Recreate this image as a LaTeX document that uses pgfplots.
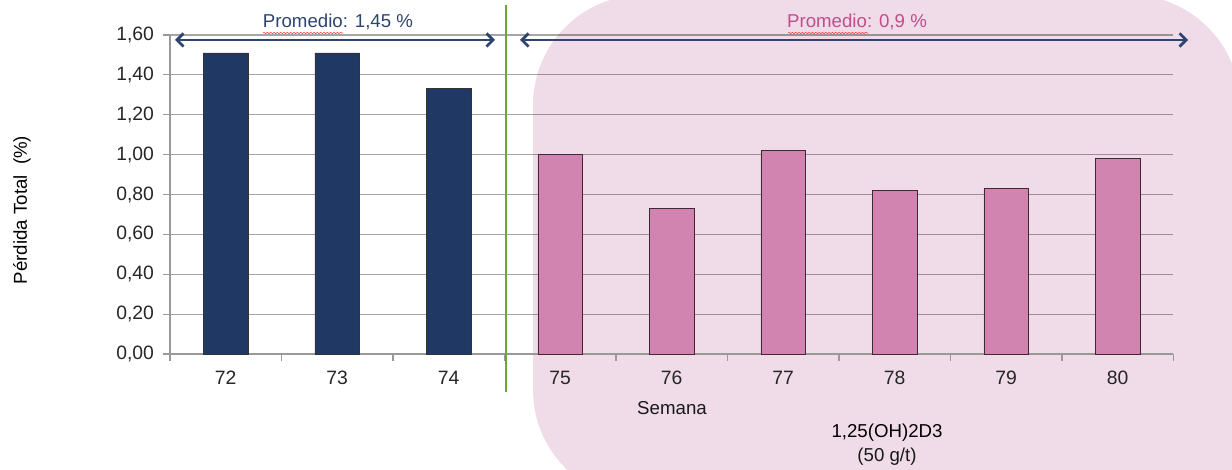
\documentclass[border=0pt]{standalone}
\usepackage{pgfplots}
\pgfplotsset{compat=1.18}
\usepackage{fontspec}
\setmainfont{Liberation Sans}
\usetikzlibrary{arrows.meta,decorations.pathmorphing}
\definecolor{navybar}{HTML}{1F3864}
\definecolor{pinkbar}{HTML}{D084AF}
\definecolor{pinkbg}{HTML}{F0DCE8}
\definecolor{arrowc}{HTML}{2E4470}
\definecolor{pinktxt}{HTML}{C04E8C}
\definecolor{greenl}{HTML}{6AA832}
\begin{document}
\begin{tikzpicture}[x=0.75pt,y=0.75pt]
\clip (0,0) rectangle (1232,470);
% pink background (y measured from bottom, px units)
\fill[pinkbg] (643,-30) -- (1240,-30) -- (1240,365) arc[start angle=0,end angle=90,radius=110] -- (643,475) arc[start angle=90,end angle=180,radius=110] -- (533,80) arc[start angle=180,end angle=270,radius=110] -- cycle;
\begin{axis}[
  at={(127.5pt,87pt)}, anchor=south west,
  scale only axis, width=752.6pt, height=239.25pt,
  xmin=-0.5, xmax=8.5, ymin=0, ymax=1.6,
  axis x line*=bottom, axis y line*=left,
  axis line style={-, draw=black!40, line width=0.8pt},
  ymajorgrids=true,
  grid style={black, opacity=0.35, line width=0.9pt},
  xtick={0,...,8}, xticklabels={72,73,74,75,76,77,78,79,80},
  major x tick style={draw=none},
  minor xtick={-0.5,0.5,1.5,2.5,3.5,4.5,5.5,6.5,7.5,8.5},
  minor x tick style={draw=black!40, line width=0.8pt},
  minor tick length=5pt,
  ytick={0,0.2,0.4,0.6,0.8,1.0,1.2,1.4,1.6},
  major y tick style={draw=black!40, line width=0.8pt},
  major tick length=5pt,
  tick align=outside,
  /pgf/number format/assume math mode=true,
  ticklabel style={font=\fontsize{14.5}{17}\selectfont, text=black!85},
  xticklabel style={yshift=-4.5pt},
  yticklabel style={xshift=-3.5pt, /pgf/number format/.cd,fixed,fixed zerofill,precision=2,use comma},
  ybar, bar width=0.4, bar shift=0pt,
  clip=false,
]
\addplot[fill=navybar, draw=black!80, line width=0.6pt] coordinates {(0,1.51) (1,1.51) (2,1.33)};
\addplot[fill=pinkbar, draw=black!70!pinkbar, line width=0.6pt] coordinates {(3,1.00) (4,0.73) (5,1.02) (6,0.82) (7,0.83) (8,0.98)};
\end{axis}
% annotations in px coordinates (y from bottom)
\draw[greenl, line width=1.4pt] (506,465) -- (506,78);
\draw[arrowc, line width=2pt, {Straight Barb[length=5pt,width=10pt]}-{Straight Barb[length=5pt,width=10pt]}] (175,430) -- (495,430);
\draw[arrowc, line width=2pt, {Straight Barb[length=5pt,width=10pt]}-{Straight Barb[length=5pt,width=10pt]}] (520,430) -- (1188,430);
\node[text=arrowc, font=\fontsize{14}{16}\selectfont] at (338,448) {Promedio: 1,45 \%};
\node[text=pinktxt, font=\fontsize{14}{16}\selectfont] at (857,448) {Promedio: 0,9 \%};
\draw[red!80, line width=0.4pt, decorate, decoration={snake, amplitude=0.5pt, segment length=2.5pt}] (263,437) -- (343,437);
\draw[red!80, line width=0.4pt, decorate, decoration={snake, amplitude=0.5pt, segment length=2.5pt}] (788,437) -- (868,437);
\node[rotate=90, font=\fontsize{14}{16}\selectfont, text=black] at (22,260) {Pérdida Total\ \ (\%)};
\node[font=\fontsize{14}{16}\selectfont, text=black!90] at (672,62) {Semana};
\node[font=\fontsize{14}{16}\selectfont, text=black] at (887,37) {1,25(OH)2D3};
\node[font=\fontsize{14}{16}\selectfont, text=black!90] at (887,13) {(50 g/t)};
\end{tikzpicture}
\end{document}
